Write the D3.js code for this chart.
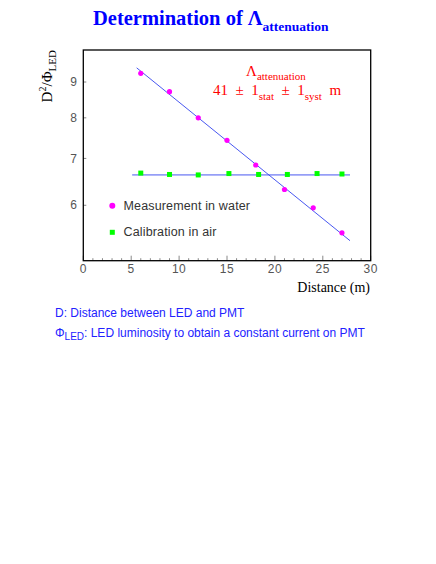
<!DOCTYPE html>
<html>
<head>
<meta charset="utf-8">
<script src="https://cdn.jsdelivr.net/npm/d3@7"></script>
<style>
  body { margin: 0; background: #fff; }
  svg { display: block; }
</style>
</head>
<body>
<script>
// measurement in water (distance m, D^2/Phi)
var waterX = [6, 9, 12, 15, 18, 21, 24, 27];
var waterY = [9.26, 8.72, 8.00, 7.43, 6.85, 6.32, 5.95, 5.48];

// calibration in air
var airX = [6, 9, 12, 15.2, 18.3, 21.3, 24.4, 27];
var airY = [6.67, 6.64, 6.63, 6.66, 6.64, 6.64, 6.66, 6.65];

// fitted lines (end points)
var fitWaterX = [5.57, 27.84];
var fitWaterY = [9.43, 5.34];
var fitAirX = [5.1, 27.84];
var fitAirY = [6.63, 6.63];

var xTicks = [0, 5, 10, 15, 20, 25, 30];
var yTicks = [6, 7, 8, 9];

var width = 436,
    height = 564;

var svg = d3.select('body')
    .append('svg')
    .attr('width', width)
    .attr('height', height);

//plot frame
var frame = {left: 83.3, right: 370.7, top: 50, bottom: 260.7};

var x = d3.scaleLinear()
    .domain([0, 30])
    .range([frame.left, frame.right]);

var y = d3.scaleLog()
    .domain([5, 10])
    .range([frame.bottom, frame.top]);

//title
var title = svg.append('text')
    .attr('x', 93)
    .attr('y', 25)
    .style('font-family', '"Liberation Serif", serif')
    .style('font-weight', 'bold')
    .style('font-size', '20.5px')
    .attr('fill', '#0000ff');
title.append('tspan').text('Determination of \u039B');
title.append('tspan')
    .attr('dy', 6)
    .style('font-size', '13.5px')
    .text('attenuation');

//minor x ticks
var minor = d3.range(0, 31);
svg.append('g').selectAll('line')
    .data(minor)
    .enter()
    .append('line')
    .attr('x1', function(d){ return x(d); })
    .attr('x2', function(d){ return x(d); })
    .attr('y1', frame.bottom)
    .attr('y2', function(d){ return d % 5 === 0 ? frame.bottom - 5 : frame.bottom - 2.5; })
    .attr('stroke', '#888')
    .attr('stroke-width', 1);

//x tick labels
svg.append('g').selectAll('text')
    .data(xTicks)
    .enter()
    .append('text')
    .attr('x', function(d){ return x(d); })
    .attr('y', 273)
    .attr('text-anchor', 'middle')
    .style('font-family', '"Liberation Sans", sans-serif')
    .style('font-size', '12px')
    .style('letter-spacing', '0.5px')
    .attr('fill', '#555')
    .text(function(d){ return d; });

//y ticks
svg.append('g').selectAll('line')
    .data(yTicks)
    .enter()
    .append('line')
    .attr('x1', frame.left)
    .attr('x2', frame.left + 3)
    .attr('y1', function(d){ return y(d); })
    .attr('y2', function(d){ return y(d); })
    .attr('stroke', '#888');

svg.append('g').selectAll('text')
    .data(yTicks)
    .enter()
    .append('text')
    .attr('x', 77)
    .attr('y', function(d){ return y(d); })
    .attr('dy', '0.35em')
    .attr('text-anchor', 'end')
    .style('font-family', '"Liberation Sans", sans-serif')
    .style('font-size', '12px')
    .attr('fill', '#555')
    .text(function(d){ return d; });

//frame
svg.append('rect')
    .attr('x', frame.left)
    .attr('y', frame.top)
    .attr('width', frame.right - frame.left)
    .attr('height', frame.bottom - frame.top)
    .attr('fill', 'none')
    .attr('stroke', '#000')
    .attr('stroke-width', 1.3);

//axis titles
svg.append('text')
    .attr('x', 370)
    .attr('y', 292)
    .attr('text-anchor', 'end')
    .style('font-family', '"Liberation Serif", serif')
    .style('font-size', '14px')
    .attr('fill', '#000')
    .text('Distance (m)');

var ylab = svg.append('text')
    .attr('transform', 'translate(52,50) rotate(-90)')
    .attr('text-anchor', 'end')
    .style('font-family', '"Liberation Serif", serif')
    .style('font-size', '15px')
    .attr('fill', '#000');
ylab.append('tspan').text('D');
ylab.append('tspan').attr('dy', -6).style('font-size', '10px').text('2');
ylab.append('tspan').attr('dy', 6).text('/\u03A6');
ylab.append('tspan').attr('dy', 4).style('font-size', '11px').text('LED');

//fit lines
var line = d3.line()
    .x(function(d){ return x(d[0]); })
    .y(function(d){ return y(d[1]); });

svg.append('path')
    .datum(d3.zip(fitWaterX, fitWaterY))
    .attr('d', line)
    .attr('fill', 'none')
    .attr('stroke', '#3344ee')
    .attr('stroke-width', 0.9);

svg.append('path')
    .datum(d3.zip(fitAirX, fitAirY))
    .attr('d', line)
    .attr('fill', 'none')
    .attr('stroke', '#3344ee')
    .attr('stroke-width', 0.9);

//points
svg.append('g').selectAll('circle')
    .data(d3.zip(waterX, waterY))
    .enter()
    .append('circle')
    .attr('cx', function(d){ return x(d[0]); })
    .attr('cy', function(d){ return y(d[1]); })
    .attr('r', 2.6)
    .attr('fill', '#ff00ff');

svg.append('g').selectAll('rect')
    .data(d3.zip(airX, airY))
    .enter()
    .append('rect')
    .attr('x', function(d){ return x(d[0]) - 2.5; })
    .attr('y', function(d){ return y(d[1]) - 2.5; })
    .attr('width', 5)
    .attr('height', 5)
    .attr('fill', '#00ff00');

//legend
svg.append('circle')
    .attr('cx', 112.3)
    .attr('cy', 205.7)
    .attr('r', 3)
    .attr('fill', '#ff00ff');
svg.append('rect')
    .attr('x', 109.8)
    .attr('y', 229.8)
    .attr('width', 5)
    .attr('height', 5)
    .attr('fill', '#00ff00');

svg.append('text')
    .attr('x', 123.5)
    .attr('y', 210)
    .style('font-family', '"Liberation Sans", sans-serif')
    .style('font-size', '12.5px')
    .style('letter-spacing', '0.15px')
    .attr('fill', '#333')
    .text('Measurement in water');
svg.append('text')
    .attr('x', 123.5)
    .attr('y', 236)
    .style('font-family', '"Liberation Sans", sans-serif')
    .style('font-size', '12.5px')
    .style('letter-spacing', '0.15px')
    .attr('fill', '#333')
    .text('Calibration in air');

//fit result
var ann1 = svg.append('text')
    .attr('x', 246)
    .attr('y', 76)
    .style('font-family', '"Liberation Serif", serif')
    .style('font-size', '15px')
    .attr('fill', '#ff0000');
ann1.append('tspan').text('\u039B');
ann1.append('tspan').attr('dy', 4).style('font-size', '11px').text('attenuation');

var ann2 = svg.append('text')
    .attr('x', 213)
    .attr('y', 95)
    .style('font-family', '"Liberation Serif", serif')
    .style('font-size', '15px')
    .attr('fill', '#ff0000')
    .attr('xml:space', 'preserve');
ann2.append('tspan').text('41  \u00B1  1');
ann2.append('tspan').attr('dy', 5).style('font-size', '11px').text('stat');
ann2.append('tspan').attr('dy', -5).text('  \u00B1  1');
ann2.append('tspan').attr('dy', 5).style('font-size', '11px').text('syst');
ann2.append('tspan').attr('dy', -5).text('  m');

//notes
svg.append('text')
    .attr('x', 55)
    .attr('y', 317)
    .style('font-family', '"Liberation Sans", sans-serif')
    .style('font-size', '12px')
    .attr('fill', '#2222ff')
    .text('D: Distance between LED and PMT');

var note = svg.append('text')
    .attr('x', 55)
    .attr('y', 337)
    .style('font-family', '"Liberation Sans", sans-serif')
    .style('font-size', '12px')
    .attr('fill', '#2222ff');
note.append('tspan').text('\u03A6');
note.append('tspan').attr('dy', 3).style('font-size', '10px').text('LED');
note.append('tspan').attr('dy', -3).text(': LED luminosity to obtain a constant current on PMT');
</script>
</body>
</html>
